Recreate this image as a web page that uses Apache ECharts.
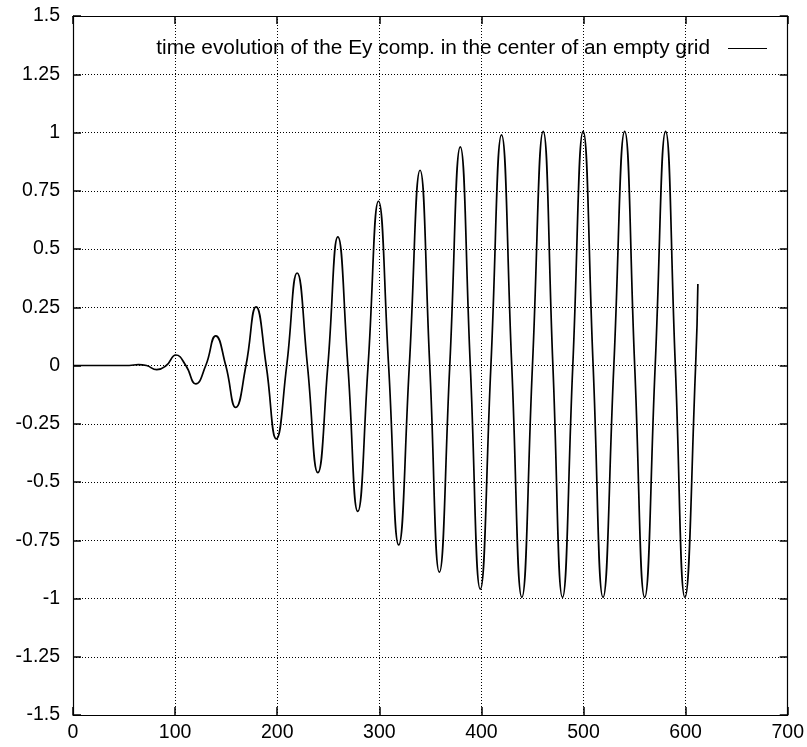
<!DOCTYPE html>
<html>
<head>
<meta charset="utf-8">
<script src="https://cdn.jsdelivr.net/npm/echarts@6/dist/echarts.min.js"></script>
<style>html,body{margin:0;padding:0;background:#fff}#chart{width:807px;height:747px}</style>
</head>
<body>
<div id="chart"></div>
<script>
// Time steps (x) and Ey values (y): flat start, extrema and zero crossings
const timeSteps = [0, 55, 64, 72, 82, 91.3, 100.7, 110.5, 120.2, 130, 139.8, 149.6, 159.4, 169.4, 179.3, 189.2, 199.1, 209.3, 219.5, 229.6, 239.8, 249.6, 259.4, 269.2, 278.9, 289, 299.2, 309.1, 319, 329.4, 339.9, 349.4, 358.8, 369, 379.3, 389.1, 398.9, 409.3, 419.7, 429.7, 439.6, 450, 460.5, 470, 479.4, 489.5, 499.6, 509.4, 519.1, 529.7, 540.3, 550.1, 559.9, 570.2, 580.4, 589.9, 599.3, 609.8, 612];
const eyValues  = [0, 0, 0.004, 0, -0.018, 0, 0.045, 0, -0.079, 0, 0.127, 0, -0.18, 0, 0.252, 0, -0.315, 0, 0.397, 0, -0.46, 0, 0.552, 0, -0.626, 0, 0.705, 0, -0.77, 0, 0.838, 0, -0.887, 0, 0.938, 0, -0.96, 0, 0.99, 0, -0.995, 0, 1.005, 0, -0.995, 0, 1.005, 0, -0.995, 0, 1.005, 0, -0.995, 0, 1.005, 0, -0.995, 0, 0.35];
const xTicks = [0, 100, 200, 300, 400, 500, 600, 700];
const yTicks = [-1.5, -1.25, -1, -0.75, -0.5, -0.25, 0, 0.25, 0.5, 0.75, 1, 1.25, 1.5];
const seriesName = 'time evolution of the Ey comp. in the center of an empty grid';

const points = timeSteps.map((t, i) => [t, eyValues[i]]);
const FONT = 'Liberation Sans';
const gridLine = { show: true, lineStyle: { color: '#000', width: 1, type: [1, 2] } };
const tick = { show: true, inside: true, length: 8, lineStyle: { color: '#000', width: 1.5 } };
const line = { show: true, onZero: false, lineStyle: { color: '#000', width: 1.2 } };

const chart = echarts.init(document.getElementById('chart'), null, { renderer: 'canvas' });
chart.setOption({
  animation: false,
  backgroundColor: '#fff',
  grid: { left: 73, right: 18, top: 16, bottom: 32, containLabel: false },
  legend: {
    data: [seriesName],
    right: 40, top: 38, padding: 0, align: 'right',
    itemWidth: 39, itemHeight: 20, itemGap: 0,
    icon: 'path://M0,10L39,10L39,11.2L0,11.2Z',
    textStyle: { fontFamily: FONT, fontSize: 20.8, lineHeight: 20, color: '#000', padding: [0, 13, 0, 0] }
  },
  xAxis: [
    { type: 'value', min: xTicks[0], max: xTicks[xTicks.length - 1], interval: 100, position: 'bottom',
      axisLine: line, axisTick: tick, splitLine: gridLine,
      axisLabel: { margin: 8, fontFamily: FONT, fontSize: 19.5, color: '#000' } },
    { type: 'value', min: xTicks[0], max: xTicks[xTicks.length - 1], interval: 100, position: 'top',
      axisLine: line, axisTick: tick, splitLine: { show: false }, axisLabel: { show: false } }
  ],
  yAxis: [
    { type: 'value', min: yTicks[0], max: yTicks[yTicks.length - 1], interval: 0.25, position: 'left',
      axisLine: line, axisTick: tick, splitLine: gridLine,
      axisLabel: { margin: 13, fontFamily: FONT, fontSize: 19.5, color: '#000' } },
    { type: 'value', min: yTicks[0], max: yTicks[yTicks.length - 1], interval: 0.25, position: 'right',
      axisLine: line, axisTick: tick, splitLine: { show: false }, axisLabel: { show: false } }
  ],
  series: [{
    name: seriesName, type: 'line', data: points, xAxisIndex: 0, yAxisIndex: 0,
    showSymbol: false, smooth: 0.5, lineStyle: { color: '#000', width: 1.7 }, itemStyle: { color: '#000' },
    z: 3
  }]
});
</script>
</body>
</html>
